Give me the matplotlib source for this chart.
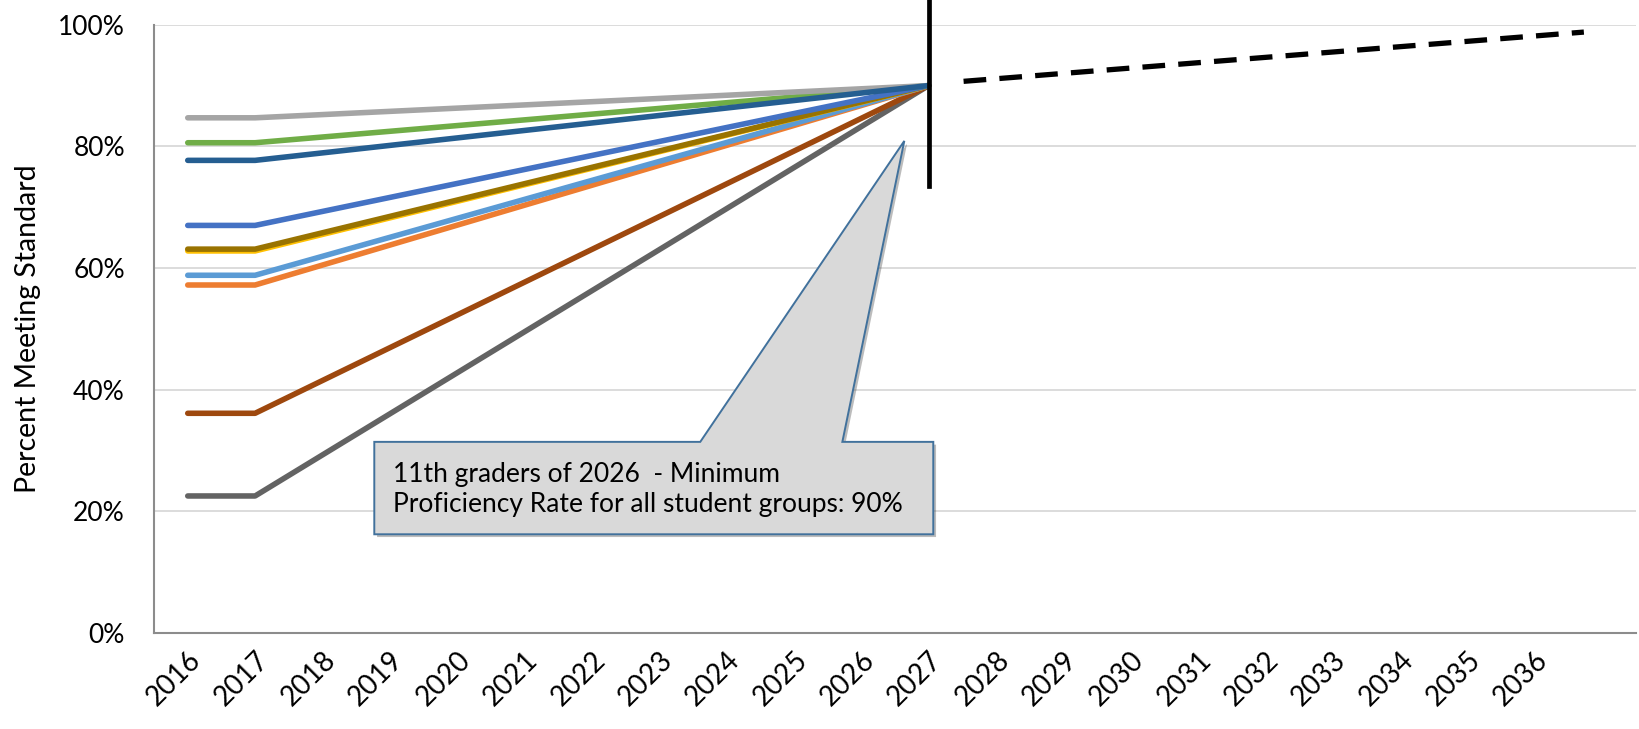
import numpy as np
import matplotlib.pyplot as plt
from matplotlib.patches import Polygon
import matplotlib.patheffects as pe

plt.rcParams['font.family'] = ['Lato', 'DejaVu Sans']

years = [str(y) for y in range(2016, 2037)] + ['']
target = 90.0

# starting proficiency (%) by student group, flat 2016-2017 then to target in 2027
group_start = [22.5, 36.1, 57.2, 58.8, 62.8, 63.1, 67.0, 80.6, 84.7, 77.7]
group_colors = ['#636363', '#9E480E', '#ED7D31', '#5B9BD5', '#FFC000',
                '#997300', '#4472C4', '#70AD47', '#A5A5A5', '#255E91']
point_years = [2016, 2017, 2027]

# long-term goal line after 2027
goal_x = [11.52, 20.73]
goal_y = [90.7, 98.8]

fig = plt.figure(figsize=(16.39, 7.29), dpi=100)
ax = fig.add_axes([0.094, 0.132, 0.904, 0.834])

xs = [years.index(str(y)) for y in point_years]
for i, (v, c) in enumerate(zip(group_start, group_colors)):
    ax.plot(xs, [v, v, target], color=c, lw=4, solid_capstyle='round',
            solid_joinstyle='round', zorder=3 + i * 0.1)

ax.plot(goal_x, goal_y, color='black', lw=3.8, dashes=(4.3, 2.5), zorder=4)
ax.plot([11, 11], [73.5, 104.5], color='black', lw=3.4, clip_on=False, zorder=5)

ax.set_xlim(-0.5, len(years) - 0.5)
ax.set_ylim(0, 100)
ax.set_xticks(range(len(years)))
ax.set_xticklabels(years, rotation=45, ha='right', rotation_mode='anchor',
                   fontsize=20)
ax.set_yticks(np.arange(0, 101, 20))
ax.set_yticklabels([f'{v}%' for v in range(0, 101, 20)], fontsize=19)
ax.tick_params(length=0)
ax.tick_params(axis='y', pad=21)
ax.tick_params(axis='x', pad=10)
ax.set_ylabel('Percent Meeting Standard', fontsize=20.5, labelpad=12)

ax.grid(axis='y', color='#D9D9D9', lw=1.3)
ax.set_axisbelow(True)
for s in ['top', 'right']:
    ax.spines[s].set_visible(False)
for s in ['left', 'bottom']:
    ax.spines[s].set_color('#8C8C8C')
    ax.spines[s].set_linewidth(1.5)

# callout box with pointer to the 2027 target
callout = [(2.77, 31.4), (7.61, 31.4), (10.64, 80.9), (9.72, 31.4),
           (11.07, 31.4), (11.07, 16.2), (2.77, 16.2)]
box = Polygon(callout, closed=True, facecolor='#D9D9D9', edgecolor='#41719C',
              lw=1.4, zorder=6,
              path_effects=[pe.SimplePatchShadow(offset=(2, -2), alpha=0.35),
                            pe.Normal()])
ax.add_patch(box)
ax.text(3.05, 23.5, '11th graders of 2026  - Minimum\nProficiency Rate for all student groups: 90%',
        fontsize=19, va='center', ha='left', linespacing=1.25, zorder=7)

fig.savefig('out.png', dpi=100)
